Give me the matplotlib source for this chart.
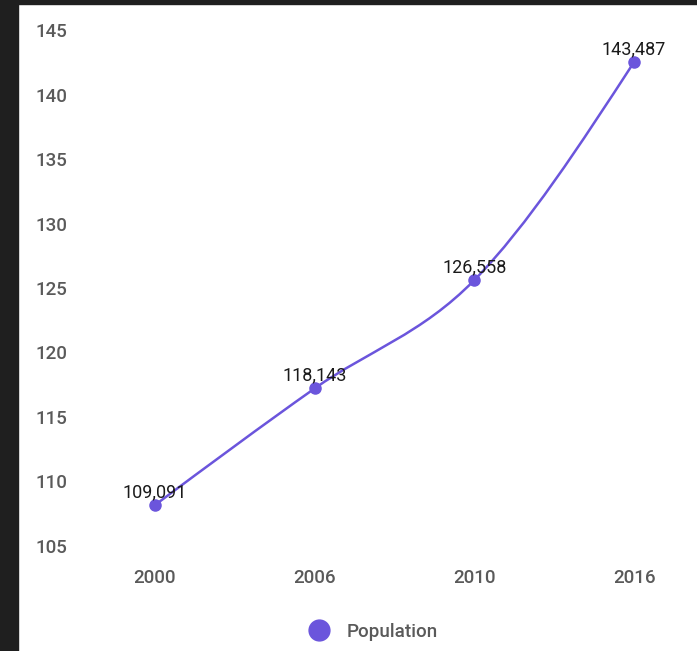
import numpy as np
import matplotlib
matplotlib.use("Agg")
import matplotlib.pyplot as plt
from matplotlib.path import Path
from matplotlib.patches import PathPatch, Rectangle
from matplotlib.lines import Line2D

plt.rcParams['font.family'] = ['Roboto', 'DejaVu Sans']

# data (population, thousands)
years = ["2000", "2006", "2010", "2016"]
population = [109.091, 118.143, 126.558, 143.487]
value_labels = ["109,091", "118,143", "126,558", "143,487"]
y_ticks = [105, 110, 115, 120, 125, 130, 135, 140, 145]

purple = "#6b55dc"
W, H = 697, 651

fig = plt.figure(figsize=(W / 100, H / 100), dpi=100)
fig.patch.set_facecolor("white")
# dark frame of the screenshot
fig.patches.append(Rectangle((0, 0), 18 / W, 1, transform=fig.transFigure, color="#1f1f1f", zorder=10))
fig.patches.append(Rectangle((0, 1 - 4 / H), 1, 4 / H, transform=fig.transFigure, color="#1f1f1f", zorder=10))

# axes placed so 105 sits at y=558px and 145 at y=42px
left, right = 80, 690
bottom_px, top_px = 557.7, 42.5
ax = fig.add_axes([left / W, 1 - bottom_px / H, (right - left) / W, (bottom_px - top_px) / H])
ax.set_ylim(105, 145)
x0, dx = 155, 159.7
ax.set_xlim((left - x0) / dx, (right - x0) / dx)

xs = np.arange(len(years))
ys = np.array(population)

# monotone-x cubic curve between points
h = np.diff(xs).astype(float)
s = np.diff(ys) / h
t = np.zeros(len(ys))
for i in range(1, len(ys) - 1):
    p = (s[i - 1] * h[i] + s[i] * h[i - 1]) / (h[i - 1] + h[i])
    t[i] = (np.sign(s[i - 1]) + np.sign(s[i])) * min(abs(s[i - 1]), abs(s[i]), 0.5 * abs(p))
t[0] = (3 * s[0] - t[1]) / 2
t[-1] = (3 * s[-1] - t[-2]) / 2

verts = [(xs[0], ys[0])]
codes = [Path.MOVETO]
for i in range(len(ys) - 1):
    d = h[i] / 3
    verts += [(xs[i] + d, ys[i] + d * t[i]), (xs[i + 1] - d, ys[i + 1] - d * t[i + 1]), (xs[i + 1], ys[i + 1])]
    codes += [Path.CURVE4] * 3
ax.add_patch(PathPatch(Path(verts, codes), facecolor="none", edgecolor=purple, lw=1.8, zorder=2))
ax.plot(xs, ys, "o", color=purple, markersize=8, zorder=3)

for x, y, lab in zip(xs, ys, value_labels):
    ax.annotate(lab, xy=(x, y), xytext=(0, 13), textcoords="offset pixels",
                ha="center", va="center", fontsize=13, color="#1a1a1a", zorder=4)

# y labels drawn slightly above their levels
ax.set_yticks(y_ticks)
ax.set_yticklabels([])
for v in y_ticks:
    ax.annotate(str(v), xy=(0, v), xycoords=("axes fraction", "data"), xytext=(-13, 10),
                textcoords="offset pixels", ha="right", va="center",
                fontsize=13.5, color="#5a5a5a", fontweight="medium")

ax.set_xticks(xs)
ax.set_xticklabels(years, fontsize=13.5, color="#5a5a5a", fontweight="medium")
ax.tick_params(length=0)
ax.tick_params(axis="x", pad=8)
for sp in ax.spines.values():
    sp.set_visible(False)

handle = Line2D([], [], marker="o", linestyle="none", color=purple, markersize=15)
fig.legend([handle], ["Population"], loc="center", bbox_to_anchor=(369 / W, 1 - 632 / H),
           frameon=False, prop={"size": 13.5, "weight": "medium"}, labelcolor="#5a5a5a",
           handletextpad=0.5)

fig.savefig("out.png", dpi=100, facecolor=fig.get_facecolor())
